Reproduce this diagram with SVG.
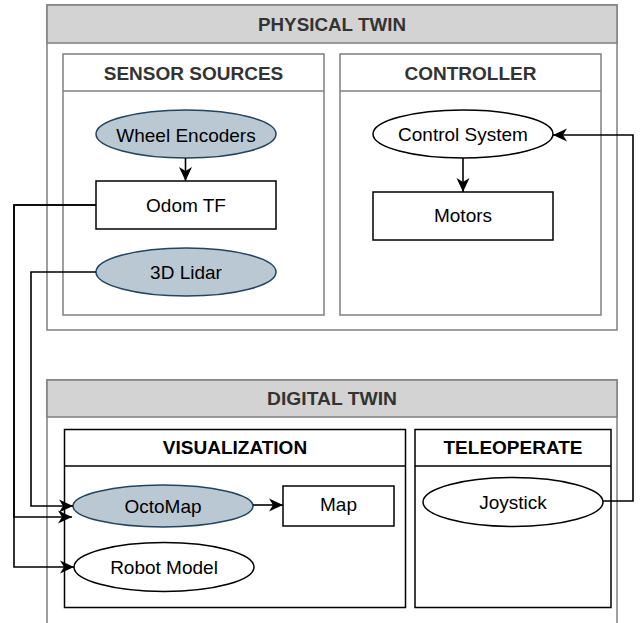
<svg xmlns="http://www.w3.org/2000/svg" width="644" height="623" viewBox="0 0 644 623">
  <defs>
    <marker id="arrow" markerUnits="userSpaceOnUse" markerWidth="15" markerHeight="14" viewBox="0 0 15 14" refX="14" refY="7" orient="auto">
      <path d="M0,0.5 L14,7 L0,13.5 L4,7 Z" fill="#000"/>
    </marker>
  </defs>
  <style>
    .outer { fill: #fff; stroke: #7f7f7f; stroke-width: 1.5; }
    .outer-head { fill: #d3d3d3; stroke: #7f7f7f; stroke-width: 1.5; }
    .lane { fill: #fff; stroke: #7f7f7f; stroke-width: 1.5; }
    .lane-dark { fill: #fff; stroke: #000; stroke-width: 1.5; }
    .node { fill: #fff; stroke: #000; stroke-width: 1.5; }
    .sensor { fill: #bac8d3; stroke: #23445d; stroke-width: 1.5; }
    .title { font-family: "Liberation Sans", Arial, sans-serif; font-weight: bold; font-size: 19px; fill: #333; text-anchor: middle; }
    .title-dark { font-family: "Liberation Sans", Arial, sans-serif; font-weight: bold; font-size: 19px; fill: #000; text-anchor: middle; }
    .label { font-family: "Liberation Sans", Arial, sans-serif; font-size: 19px; fill: #000; text-anchor: middle; }
    .edge { fill: none; stroke: #000; stroke-width: 1.6; }
  </style>

  <!-- Physical twin container -->
  <g id="physical-twin">
    <rect class="outer" x="47" y="5" width="570" height="325"/>
    <rect class="outer-head" x="47" y="5" width="570" height="38"/>
    <text class="title" x="332" y="30.5" textLength="148" lengthAdjust="spacingAndGlyphs">PHYSICAL TWIN</text>
  </g>

  <g id="sensor-sources">
    <rect class="lane" x="63" y="54" width="261" height="261"/>
    <line class="lane" x1="63" y1="91" x2="324" y2="91"/>
    <text class="title" x="193.5" y="79.5">SENSOR SOURCES</text>
  </g>

  <g id="controller">
    <rect class="lane" x="340" y="54" width="261" height="261"/>
    <line class="lane" x1="340" y1="91" x2="601" y2="91"/>
    <text class="title" x="470.5" y="79.5">CONTROLLER</text>
  </g>

  <g id="wheel-encoders">
    <ellipse class="sensor" cx="186" cy="134" rx="90" ry="24"/>
    <text class="label" x="186" y="141.5">Wheel Encoders</text>
  </g>

  <g id="odom-tf">
    <rect class="node" x="96" y="181" width="180" height="48"/>
    <text class="label" x="186" y="211.5">Odom TF</text>
  </g>

  <g id="lidar-3d">
    <ellipse class="sensor" cx="186" cy="272" rx="90" ry="24"/>
    <text class="label" x="186" y="279">3D Lidar</text>
  </g>

  <g id="control-system">
    <ellipse class="node" cx="463" cy="134" rx="90" ry="24"/>
    <text class="label" x="463" y="140.5">Control System</text>
  </g>

  <g id="motors">
    <rect class="node" x="373" y="192" width="180" height="48"/>
    <text class="label" x="463" y="222">Motors</text>
  </g>

  <!-- Digital twin container (runs past the bottom edge) -->
  <g id="digital-twin">
    <rect class="outer" x="47" y="380" width="570" height="260"/>
    <rect class="outer-head" x="47" y="380" width="570" height="37"/>
    <text class="title" x="332" y="405" textLength="130" lengthAdjust="spacingAndGlyphs">DIGITAL TWIN</text>
  </g>

  <g id="visualization">
    <rect class="lane-dark" x="64.5" y="429.5" width="341" height="178"/>
    <line class="lane-dark" x1="64.5" y1="466" x2="405.5" y2="466"/>
    <text class="title-dark" x="235" y="454">VISUALIZATION</text>
  </g>

  <g id="teleoperate">
    <rect class="lane-dark" x="415" y="429.5" width="196" height="178"/>
    <line class="lane-dark" x1="415" y1="466" x2="611" y2="466"/>
    <text class="title-dark" x="513" y="454">TELEOPERATE</text>
  </g>

  <g id="octomap">
    <ellipse class="sensor" cx="163" cy="506" rx="90" ry="21"/>
    <text class="label" x="163" y="513">OctoMap</text>
  </g>

  <g id="map">
    <rect class="node" x="283" y="486" width="111" height="40"/>
    <text class="label" x="338.5" y="511">Map</text>
  </g>

  <g id="robot-model">
    <ellipse class="node" cx="164" cy="567" rx="90" ry="24.5"/>
    <text class="label" x="164" y="574">Robot Model</text>
  </g>

  <g id="joystick">
    <ellipse class="node" cx="513" cy="502" rx="90" ry="24.5"/>
    <text class="label" x="513" y="509">Joystick</text>
  </g>

  <!-- Connectors -->
  <g id="connectors">
    <path class="edge" d="M185.5,158 V181" marker-end="url(#arrow)"/>
    <path class="edge" d="M463,158 V192" marker-end="url(#arrow)"/>
    <path class="edge" d="M96,205 H14 V517 H72" marker-end="url(#arrow)"/>
    <path class="edge" d="M96,205 H14 V567 H74" marker-end="url(#arrow)"/>
    <path class="edge" d="M96,272 H31 V506 H73" marker-end="url(#arrow)"/>
    <path class="edge" d="M253,505 H283" marker-end="url(#arrow)"/>
    <path class="edge" d="M603,501 H633 V135 H553" marker-end="url(#arrow)"/>
  </g>
</svg>
